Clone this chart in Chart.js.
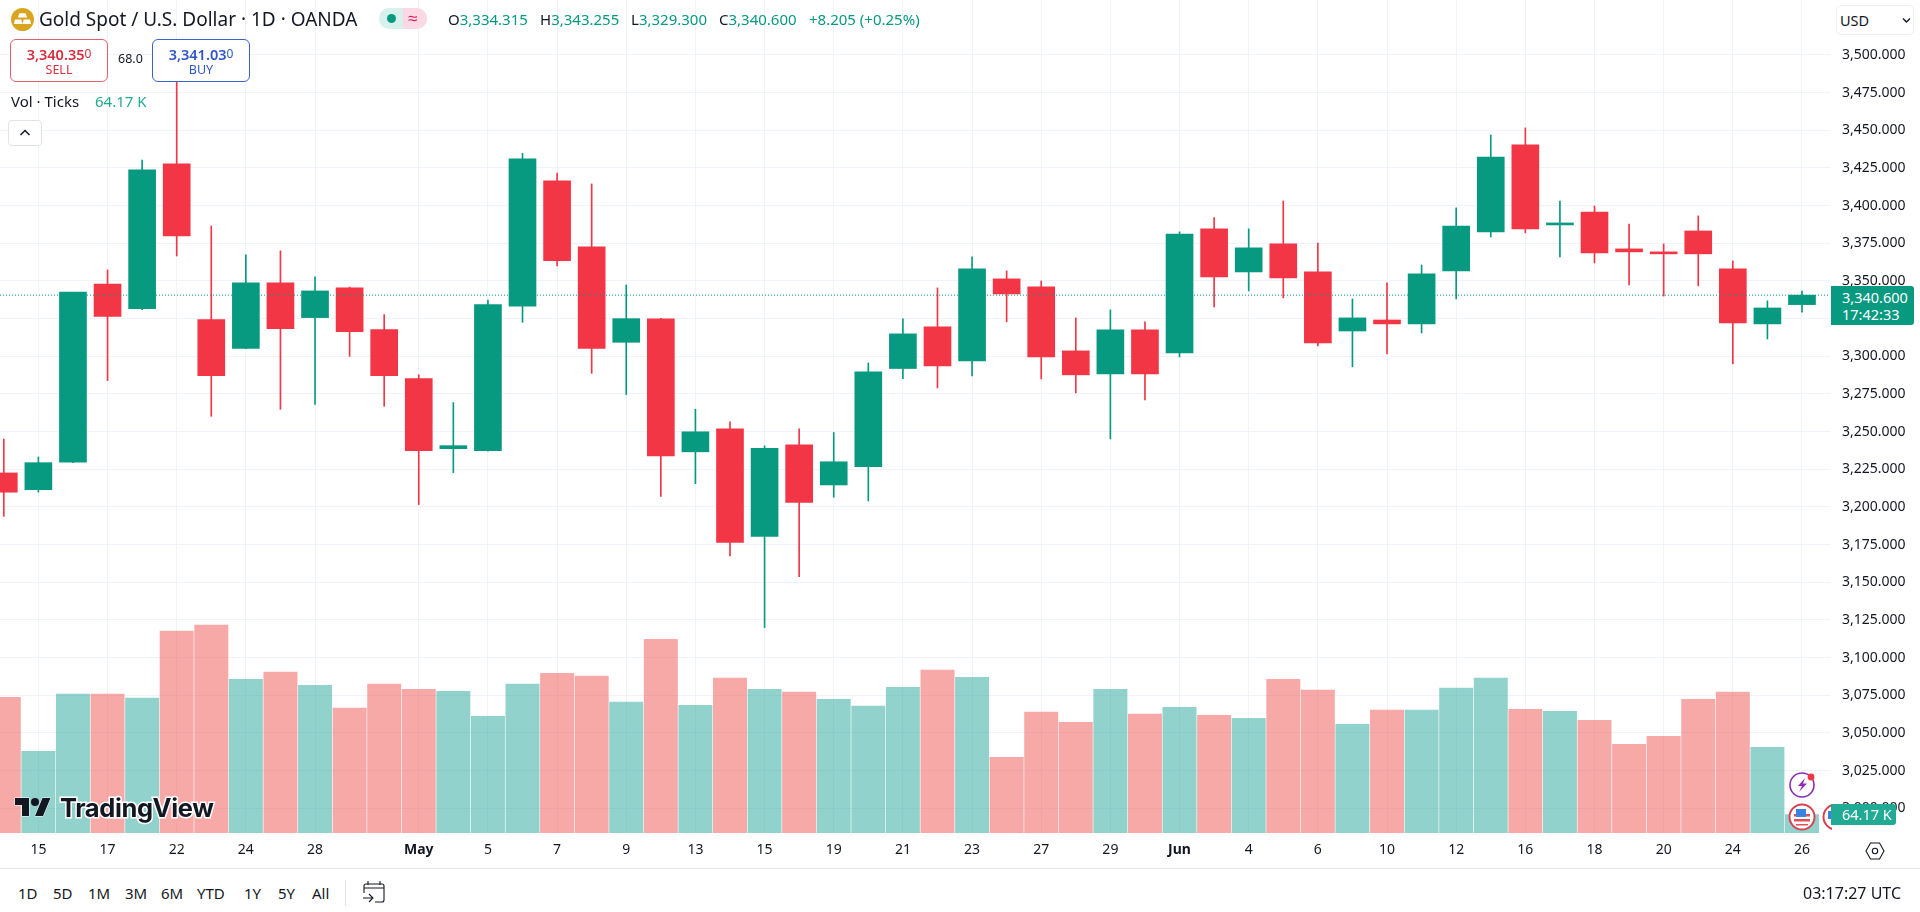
<!DOCTYPE html>
<html>
<head>
<meta charset="utf-8">
<title>Gold Spot / U.S. Dollar</title>
<script src="https://cdn.jsdelivr.net/npm/chart.js@4"></script>
<style>
  html, body { margin: 0; padding: 0; background: #fff; overflow: hidden; }
  body { width: 1920px; height: 912px; position: relative; font-family: "Noto Sans", sans-serif; color: #131722; }
  #chart { position: absolute; left: 0; top: 0; }
  .abs { position: absolute; white-space: nowrap; line-height: 1; }
  .teal { color: #089981; }
  .trade { position: absolute; top: 39px; width: 96px; height: 41px; background: #fff; border: 1px solid; border-radius: 6px; text-align: center; }
  .trade b { position: absolute; left: 0; right: 0; top: 6px; font-size: 14.5px; font-weight: 600; line-height: 16px; }
  .trade b span { font-size: 12px; font-weight: 400; vertical-align: 2px; }
  .trade i { position: absolute; left: 0; right: 0; top: 23px; font-size: 12.5px; font-style: normal; line-height: 14px; }
  .range { position: absolute; top: 884px; font-size: 15px; line-height: 18px; }
  .tag { position: absolute; color: #fff; background: #089981; text-align: center; }
</style>
</head>
<body>
<canvas id="chart" width="1920" height="868"></canvas>

<!-- header -->
<svg class="abs" style="left:11px;top:8px" width="23" height="23" viewBox="0 0 22 22">
  <circle cx="11" cy="11" r="11" fill="#d9a520"/>
  <path d="M8 5h6l1.4 4H6.6zM3.8 11h6l1.2 4.4H2.8zM12.2 11h6l1 4.4H11z" fill="#fff"/>
</svg>
<div class="abs" style="left:39px;top:10px;font-size:19px">Gold Spot / U.S. Dollar · 1D · OANDA</div>
<div class="abs" style="left:379px;top:8px;width:24px;height:21px;background:#d8f1ec;border-radius:10px 0 0 10px"></div>
<div class="abs" style="left:403px;top:8px;width:24px;height:21px;background:#fbd9e4;border-radius:0 10px 10px 0"></div>
<div class="abs" style="left:387px;top:14px;width:9px;height:9px;background:#089981;border-radius:50%"></div>
<div class="abs" style="left:408px;top:9px;font-size:17px;color:#d81b60">≈</div>
<div class="abs" style="left:448px;top:12px;font-size:15px">O<span class="teal">3,334.315</span></div>
<div class="abs" style="left:540px;top:12px;font-size:15px">H<span class="teal">3,343.255</span></div>
<div class="abs" style="left:631px;top:12px;font-size:15px">L<span class="teal">3,329.300</span></div>
<div class="abs" style="left:719px;top:12px;font-size:15px">C<span class="teal">3,340.600</span></div>
<div class="abs teal" style="left:809px;top:12px;font-size:15px">+8.205 (+0.25%)</div>

<div class="trade" style="left:10px;border-color:#e0606c;color:#d5303e"><b>3,340.35<span>0</span></b><i>SELL</i></div>
<div class="abs" style="left:118px;top:53px;font-size:12.5px">68.0</div>
<div class="trade" style="left:152px;border-color:#3b62c4;color:#2f55c8"><b>3,341.03<span>0</span></b><i>BUY</i></div>

<div class="abs" style="left:11px;top:94px;font-size:15px">Vol · Ticks</div>
<div class="abs" style="left:95px;top:94px;font-size:15px;color:#22ab94">64.17 K</div>
<div class="abs" style="left:8px;top:120px;width:34px;height:26px;box-sizing:border-box;background:#fff;border:1px solid #e0e3eb;border-radius:4px"></div>
<svg class="abs" style="left:19px;top:128px" width="12" height="9" viewBox="0 0 12 9"><path d="M1.5 7L6 2.5 10.5 7" fill="none" stroke="#131722" stroke-width="1.5"/></svg>

<!-- right side -->
<div class="abs" style="left:1836px;top:5px;width:78px;height:30px;box-sizing:border-box;background:#fff;border:1px solid #eceef2;border-radius:5px"></div>
<div class="abs" style="left:1840px;top:13px;font-size:14.5px">USD</div>
<svg class="abs" style="left:1902px;top:17px" width="9" height="7" viewBox="0 0 9 7"><path d="M1 1.5l3.5 3.5L8 1.5" fill="none" stroke="#131722" stroke-width="1.4"/></svg>

<div class="tag" style="left:1831px;top:286px;width:83px;height:39px;border-radius:0 3px 3px 0">
  <div class="abs" style="left:11px;top:3px;font-size:14.5px;line-height:16px">3,340.600</div>
  <div class="abs" style="left:11px;top:20px;font-size:14.5px;line-height:16px">17:42:33</div>
</div>

<!-- event icons -->
<svg class="abs" style="left:1788px;top:770px" width="30" height="30" viewBox="0 0 30 30">
  <circle cx="14" cy="15" r="12" fill="#fff" stroke="#8e2bb5" stroke-width="1.6"/>
  <path d="M17 8l-7 8h4l-3 6 8-8.5h-4z" fill="#8e2bb5"/>
  <circle cx="23" cy="7" r="3.4" fill="#f23645"/>
</svg>
<svg class="abs" style="left:1788px;top:803px" width="28" height="28" viewBox="0 0 28 28">
  <circle cx="14" cy="14" r="12.5" fill="#fff" stroke="#d9424f" stroke-width="2"/>
  <path d="M6 11h16v2.5H6zM6 16h16v2.5H6zM8 21h12v1.6H8z" fill="#e0505a"/>
  <rect x="8" y="6" width="10" height="8" fill="#3b82e0"/>
</svg>
<svg class="abs" style="left:1822px;top:803px" width="10" height="28" viewBox="0 0 10 28">
  <circle cx="14" cy="14" r="12.5" fill="#fff" stroke="#d9424f" stroke-width="2"/>
  <rect x="6" y="8" width="6" height="8" fill="#3b82e0"/>
</svg>
<div class="tag" style="left:1831px;top:804px;width:65px;height:21px;background:#22ab94;border-radius:0 3px 3px 0">
  <div class="abs" style="left:11px;top:3px;font-size:14.5px;line-height:15px">64.17 K</div>
</div>

<!-- watermark -->
<svg class="abs" style="left:13px;top:797px" width="40" height="20" viewBox="0 3 36 20">
  <path d="M14 22H7V11H0V4h14v18zM28 22h-8l7.5-18h8L28 22z" fill="#131722" stroke="#fff" stroke-width="1" paint-order="stroke"/>
  <circle cx="20" cy="8" r="4" fill="#131722"/>
</svg>
<div class="abs" style="left:60px;top:794px;font-family:Inter,sans-serif;font-size:25.5px;font-weight:700;letter-spacing:-.4px;line-height:28px;color:#131722;-webkit-text-stroke:3px #fff;paint-order:stroke fill">TradingView</div>

<!-- settings and bottom strip -->
<svg class="abs" style="left:1865px;top:841px" width="20" height="20" viewBox="0 0 20 20">
  <path d="M5.5 2h9L19 10l-4.5 8h-9L1 10z" fill="none" stroke="#131722" stroke-width="1.1"/>
  <circle cx="10" cy="10" r="2.7" fill="none" stroke="#131722" stroke-width="1.1"/>
</svg>
<div class="abs" style="left:0;top:868px;width:1920px;height:1px;background:#e0e3eb"></div>
<div class="range" style="left:18px">1D</div>
<div class="range" style="left:53px">5D</div>
<div class="range" style="left:88px">1M</div>
<div class="range" style="left:125px">3M</div>
<div class="range" style="left:161px">6M</div>
<div class="range" style="left:197px">YTD</div>
<div class="range" style="left:244px">1Y</div>
<div class="range" style="left:278px">5Y</div>
<div class="range" style="left:312px">All</div>
<div class="abs" style="left:345px;top:880px;width:1px;height:26px;background:#e0e3eb"></div>
<svg class="abs" style="left:362px;top:880px" width="26" height="24" viewBox="0 0 26 24">
  <path d="M6 1v4M18 1v4M2 13V6a2 2 0 0 1 2-2h16a2 2 0 0 1 2 2v14a2 2 0 0 1-2 2h-7M2 8h20M1 18h9M7 14l4 4-4 4" fill="none" stroke="#131722" stroke-width="1.1"/>
</svg>
<div class="abs" style="left:1803px;top:884px;font-size:16px;line-height:18px">03:17:27 UTC</div>

<script>
// OHLC per daily bar (Apr 14 .. Jun 26)
const opens = [3222.6,3211.5,3229.7,3348,3331.6,3427.7,3324.3,3305.3,3348.7,3325.7,3345.4,3317.7,3285.2,3238.7,3237.4,3333.2,3416.4,3372.6,3309.3,3324.8,3236.6,3251.8,3180.5,3241.2,3214.6,3226.8,3291.9,3319.5,3297,3351.4,3346.1,3303.6,3288.3,3317.5,3302.3,3384.6,3356,3374.6,3356,3316.8,3324.1,3321.5,3356.7,3382.5,3440.3,3387.2,3395.8,3371.3,3369.3,3383.2,3358,3321.5,3334.315];
const highs = [3245.1,3233.2,3230.2,3357.3,3430.3,3500,3386.5,3367.3,3370,3352.7,3346,3327.7,3287.8,3269.3,3337.4,3434.7,3421.7,3414.4,3347.4,3325.2,3264.9,3256.5,3240.6,3251.8,3249.4,3295.6,3324.8,3345.4,3366,3356.7,3350,3325.5,3330.8,3322.9,3382.6,3392.1,3384.6,3403.1,3375.2,3338.1,3348.7,3360.6,3398.5,3446.9,3451.6,3403.1,3399.8,3387.8,3374.6,3393.2,3363.3,3336.8,3343.255];
const lows = [3193.8,3209.8,3229.4,3283.9,3331,3366.6,3260.2,3305,3264.8,3268,3300,3266.8,3201.6,3222.8,3237,3322.6,3360,3288.7,3274.6,3207,3215.5,3167.5,3120,3153.7,3206.5,3204,3285.2,3279,3287,3322.9,3285,3275.7,3245.2,3271.1,3299.6,3332.8,3343.4,3338.8,3306.9,3293,3301.6,3315.5,3338.1,3379.2,3381.9,3366,3362,3347.4,3340,3346.7,3295,3311.5,3329.3];
const closes = [3209.8,3229.4,3342.7,3326.5,3423.7,3379.9,3287.2,3348.7,3318.4,3343.4,3316.4,3287.2,3237.4,3240.7,3334.3,3431,3363.5,3305.3,3325,3233.9,3249.9,3176.4,3239,3203,3230,3289.7,3314.9,3293.7,3358,3341.4,3299.6,3287.7,3317.5,3288.3,3381.2,3352.7,3372,3352,3308.9,3325.5,3321.5,3354.7,3386.5,3432.3,3384.5,3387.8,3368.6,3369.3,3368,3368,3322.2,3332.1,3340.6];

// Tick volume in thousands
const volumes = [474,285,485,485,471,705,726,537,562,516,436,520,502,495,408,520,558,548,457,677,446,541,502,492,467,443,509,569,544,264,422,387,502,415,439,411,401,537,499,380,429,429,506,541,432,425,394,310,338,467,492,299,64.17];

// x axis labels by bar index
const dateTickIndex = [1,3,5,7,9,12,14,16,18,20,22,24,26,28,30,32,34,36,38,40,42,44,46,48,50,52];
const dateTickLabels = ["15","17","22","24","28","May","5","7","9","13","15","19","21","23","27","29","Jun","4","6","10","12","16","18","20","24","26"];
const boldLabels = ["May","Jun"];

const priceTicks = [3000,3025,3050,3075,3100,3125,3150,3175,3200,3225,3250,3275,3300,3325,3350,3375,3400,3425,3450,3475,3500];
const lastPrice = 3340.6;

const UP = "#089981", DOWN = "#f23645";
const UP_VOL = "rgba(38,166,154,0.5)", DOWN_VOL = "rgba(239,83,80,0.5)";

// visible window, the first bar is cut by the left edge
const xFrom = -0.11, xTo = 52.81;

const candleColor = closes.map((c, i) => (c >= opens[i] ? UP : DOWN));
const volColor = candleColor.map(c => (c === UP ? UP_VOL : DOWN_VOL));

const idx = closes.map((_, i) => i);

new Chart(document.getElementById("chart"), {
  data: {
    datasets: [
      {
        type: "line",
        data: [{ x: xFrom, y: lastPrice }, { x: xTo, y: lastPrice }],
        borderColor: UP,
        borderWidth: 1,
        borderDash: [1, 2],
        pointRadius: 0,
        yAxisID: "y",
        order: 0,
      },
      {
        type: "bar",
        data: idx.map(i => ({ x: i, y: [opens[i], closes[i]] })),
        backgroundColor: candleColor,
        barThickness: 27,
        minBarLength: 2,
        grouped: false,
        yAxisID: "y",
        order: 1,
      },
      {
        type: "bar",
        data: idx.map(i => ({ x: i, y: [lows[i], highs[i]] })),
        backgroundColor: candleColor,
        barThickness: 1,
        grouped: false,
        yAxisID: "y",
        order: 2,
      },
      {
        type: "bar",
        data: idx.map(i => ({ x: i, y: volumes[i] })),
        backgroundColor: volColor,
        barThickness: 33.3,
        grouped: false,
        yAxisID: "vol",
        order: 3,
      },
    ],
  },
  options: {
    responsive: false,
    animation: false,
    devicePixelRatio: 1,
    layout: { padding: 0 },
    plugins: { legend: { display: false }, tooltip: { enabled: false } },
    scales: {
      x: {
        type: "linear",
        min: xFrom,
        max: xTo,
        offset: false,
        border: { display: false },
        grid: { color: "#f0f3fa", offset: false, drawTicks: false },
        afterBuildTicks: s => { s.ticks = dateTickIndex.map(value => ({ value })); },
        afterFit: s => { s.height = 35; s.paddingLeft = 0; s.paddingRight = 0; },
        ticks: {
          autoSkip: false,
          maxRotation: 0,
          padding: 9,
          color: "#131722",
          font: c => ({
            family: "'Noto Sans', sans-serif",
            size: 14,
            weight: boldLabels.includes(dateTickLabels[c.index]) ? "700" : "400",
          }),
          callback: (v, i) => dateTickLabels[i],
        },
      },
      y: {
        type: "linear",
        position: "right",
        bounds: "data",
        min: 2983.6,
        max: 3536.5,
        border: { display: false },
        grid: { color: "#f0f3fa", drawTicks: false },
        afterBuildTicks: s => { s.ticks = priceTicks.map(value => ({ value })); },
        // no label padding, the pane starts at the very top of the page
        afterFit: s => { s.width = 90; s.paddingTop = 0; s.paddingBottom = 0; },
        ticks: {
          padding: 12,
          color: "#131722",
          font: { family: "'Noto Sans', sans-serif", size: 14 },
          callback: v => v.toLocaleString("en-US", { minimumFractionDigits: 3, maximumFractionDigits: 3 }),
        },
      },
      vol: { type: "linear", axis: "y", display: false, min: 0, max: 2910 },
    },
  },
});
</script>
</body>
</html>
